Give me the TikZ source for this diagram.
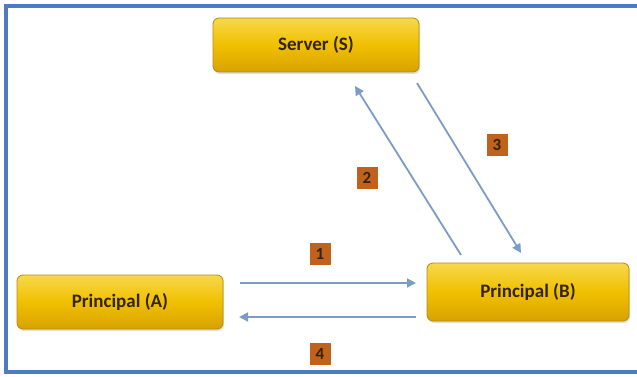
\documentclass[tikz,border=0pt]{standalone}
\usepackage{fontspec}
\setmainfont{Carlito}
\usetikzlibrary{arrows.meta,shadows}
\definecolor{frameblue}{HTML}{4F7BC0}
\definecolor{arrowblue}{HTML}{7C9CC6}
\definecolor{goldtop}{HTML}{F6D84A}
\definecolor{goldmid}{HTML}{F0C000}
\definecolor{goldbot}{HTML}{D8A200}
\definecolor{goldedge}{HTML}{B98A10}
\definecolor{labelbg}{HTML}{C0611C}
\definecolor{textdark}{HTML}{33240C}
\begin{document}
\begin{tikzpicture}[x=1pt,y=-1pt,
  actor/.style={rectangle,rounded corners=6pt,minimum width=206pt,minimum height=54pt,
    top color=goldtop,bottom color=goldbot,middle color=goldmid,draw=goldedge,line width=0.8pt,
    font=\bfseries\fontsize{19}{22}\selectfont,text=textdark,
    drop shadow={shadow xshift=1pt,shadow yshift=-2pt,opacity=0.25}},
  steplabel/.style={rectangle,fill=labelbg,minimum width=21pt,minimum height=22pt,inner sep=0pt,
    font=\bfseries\fontsize{17}{19}\selectfont,text=textdark},
  flow/.style={draw=arrowblue,line width=1.8pt,-{Triangle[length=9pt,width=9pt]}}]
\useasboundingbox (0,0) rectangle (637,377);
\draw[frameblue,line width=3.5pt] (660,6) -- (6,6) -- (6,372) -- (660,372);
\node[actor] (S) at (316,45) {Server (S)};
\node[actor] (A) at (120,302) {Principal (A)};
\node[actor,minimum width=202pt,minimum height=58pt] (B) at (528,292) {Principal (B)};
\coordinate (a1s) at (240,283);
\coordinate (a1e) at (416,283);
\coordinate (a4s) at (416,317);
\coordinate (a4e) at (239,317);
\coordinate (a2s) at (461,255);
\coordinate (a2e) at (355,86);
\coordinate (a3s) at (417,83);
\coordinate (a3e) at (521,253);
\draw[flow] (a1s) -- (a1e);
\draw[flow] (a4s) -- (a4e);
\draw[flow] (a2s) -- (a2e);
\draw[flow] (a3s) -- (a3e);
\node[steplabel] (l1) at (320,254) {1};
\node[steplabel] (l2) at (367,178) {2};
\node[steplabel] (l3) at (497,145) {3};
\node[steplabel] (l4) at (320,354) {4};
\end{tikzpicture}
\end{document}
